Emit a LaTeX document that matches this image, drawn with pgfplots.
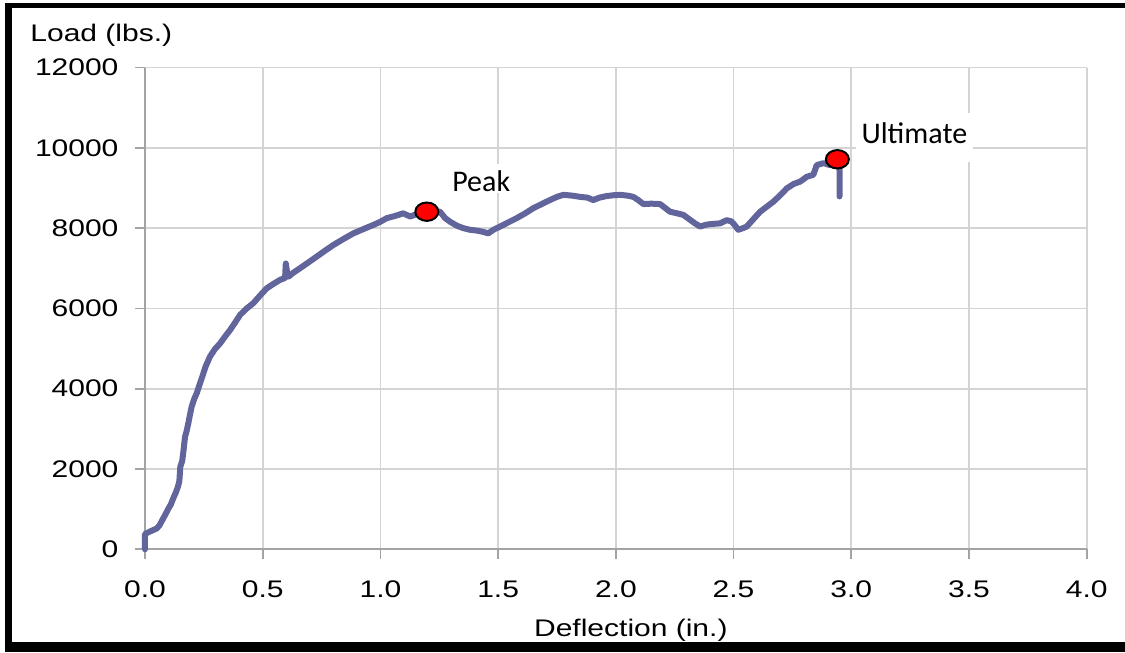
\documentclass[border=0pt]{standalone}
\usepackage{fontspec}
\setmainfont{Liberation Sans}[FakeStretch=1.25]
\newfontfamily\calibri{Carlito}
\usepackage{pgfplots}
\pgfplotsset{compat=1.18}

\definecolor{curve}{HTML}{62649C}
\definecolor{gridgray}{HTML}{D4D4D4}
\definecolor{axisgray}{HTML}{A3A3A3}

% Load-deflection record of the specimen
\pgfplotstableread{
x      y
0.000  0
0.000  380
0.020  440
0.050  520
0.062  600
0.070  690
0.085  850
0.100  1020
0.110  1120
0.120  1270
0.130  1400
0.140  1560
0.146  1700
0.150  2060
0.158  2200
0.163  2430
0.170  2800
0.177  2950
0.184  3140
0.191  3350
0.198  3550
0.210  3760
0.220  3890
0.230  4070
0.241  4260
0.258  4560
0.276  4800
0.296  4980
0.319  5130
0.340  5300
0.361  5460
0.383  5650
0.404  5840
0.430  5990
0.460  6130
0.490  6330
0.517  6500
0.545  6610
0.573  6710
0.595  6760
0.598  7120
0.605  6850
0.609  6790
0.630  6890
0.658  7000
0.690  7130
0.729  7290
0.765  7440
0.800  7580
0.840  7720
0.885  7870
0.925  7970
0.970  8080
1.000  8160
1.027  8250
1.060  8300
1.097  8370
1.126  8290
1.160  8360
1.197  8410
1.253  8410
1.275  8250
1.296  8160
1.325  8060
1.352  8000
1.380  7960
1.409  7940
1.435  7910
1.458  7870
1.480  7960
1.508  8040
1.545  8150
1.579  8250
1.615  8370
1.650  8500
1.685  8600
1.720  8700
1.750  8780
1.777  8830
1.815  8810
1.848  8780
1.880  8760
1.904  8700
1.930  8760
1.961  8800
1.990  8820
2.018  8830
2.050  8810
2.074  8780
2.095  8700
2.117  8600
2.150  8610
2.188  8600
2.210  8500
2.230  8410
2.260  8370
2.287  8330
2.310  8230
2.336  8120
2.358  8040
2.380  8080
2.400  8100
2.443  8120
2.471  8200
2.490  8170
2.499  8120
2.520  7960
2.540  8000
2.556  8040
2.585  8230
2.613  8410
2.640  8530
2.669  8660
2.700  8830
2.726  8990
2.755  9100
2.783  9160
2.811  9280
2.839  9330
2.853  9570
2.882  9620
2.910  9570
2.941  9716
2.950  9450
2.950  8790
}\loaddata

\begin{document}
\begin{tikzpicture}
\useasboundingbox (0,0) rectangle (562.5pt,326.5pt);
\begin{axis}[
  at={(72.5pt,51.85pt)}, anchor=south west,
  scale only axis, width=470.85pt, height=240.85pt,
  xmin=0, xmax=4, ymin=0, ymax=12000,
  xtick={0,0.5,1,1.5,2,2.5,3,3.5,4},
  ytick={0,2000,4000,6000,8000,10000,12000},
  axis x line*=bottom, axis y line*=left,
  axis line style={draw=axisgray, line width=1pt, -},
  grid=major,
  major grid style={draw=gridgray, line width=0.8pt},
  tick align=outside, major tick length=4.75pt,
  tick style={draw=axisgray, line width=0.9pt},
  ticklabel style={font=\fontsize{12}{14}\selectfont},
  /pgf/number format/assume math mode=true,
  xticklabel style={yshift=-7.5pt, /pgf/number format/.cd, fixed, fixed zerofill, precision=1},
  yticklabel style={xshift=-5pt, /pgf/number format/.cd, fixed, set thousands separator={}},
  scaled ticks=false,
  xlabel={Deflection (in.)},
  xlabel style={font=\fontsize{12}{14}\selectfont, at={(axis description cs:0.5,0)},
    anchor=base, yshift=-43.85pt, xshift=7.5pt},
  clip=false,
]
\addplot[curve, line width=3pt, line join=round, line cap=round] table[x=x, y=y] {\loaddata};
\addplot[only marks, mark=*, mark size=4.6pt,
  mark options={xscale=1.25, fill=red, draw=black, line width=1pt}]
  coordinates {(1.197,8410) (2.941,9716)};
\node[font=\calibri\fontsize{15}{18}\selectfont, fill=white, anchor=base,
  inner xsep=2.5pt, inner ysep=0pt, text height=14pt, text depth=0.5pt]
  at (axis cs:1.428,8909) {Peak};
\node[font=\calibri\fontsize{15}{18}\selectfont, fill=white, anchor=base,
  inner xsep=2.75pt, inner ysep=0pt, text height=15.5pt, text depth=9pt]
  at (axis cs:3.268,10097) {Ultimate};
\end{axis}
\node[anchor=base west, inner sep=0pt, font=\fontsize{12}{14}\selectfont]
  at (15pt,305.65pt) {Load (lbs.)};
% outer frame
\draw[line width=3.5pt] (4.25pt,0.5pt) -- (4.25pt,325pt);
\draw[line width=2.75pt] (2.5pt,323.75pt) -- (562.5pt,323.75pt);
\draw[line width=5pt] (2.5pt,3pt) -- (562.5pt,3pt);
\end{tikzpicture}
\end{document}
